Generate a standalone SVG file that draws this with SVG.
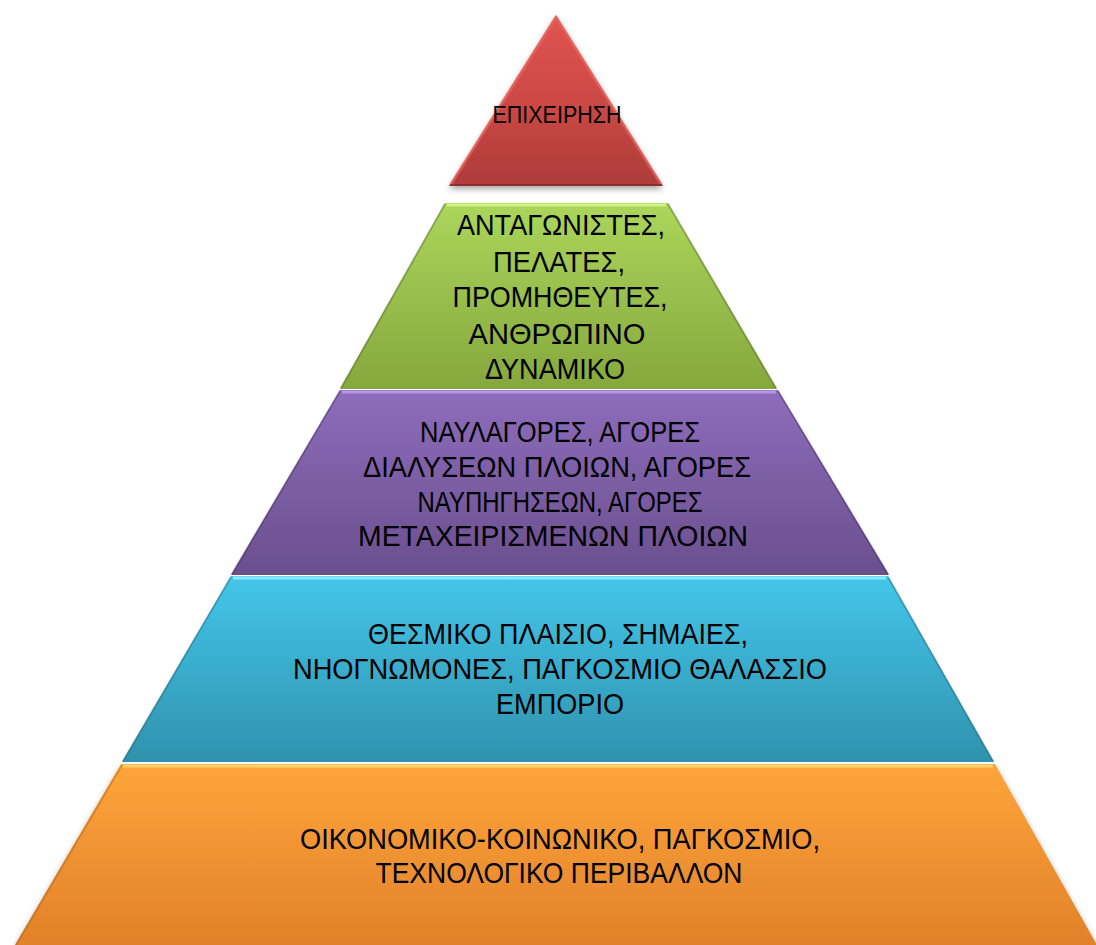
<svg xmlns="http://www.w3.org/2000/svg" width="1096" height="945" viewBox="0 0 1096 945">
<defs>
<linearGradient id="gRed" x1="0" y1="0" x2="0" y2="1"><stop offset="0" stop-color="#e0544f"/><stop offset="0.5" stop-color="#cc4945"/><stop offset="1" stop-color="#ad3c3a"/></linearGradient>
<linearGradient id="gGreen" x1="0" y1="0" x2="0" y2="1"><stop offset="0" stop-color="#abd65b"/><stop offset="1" stop-color="#86a73d"/></linearGradient>
<linearGradient id="gPurple" x1="0" y1="0" x2="0" y2="1"><stop offset="0" stop-color="#8e6dbc"/><stop offset="1" stop-color="#6a4f8d"/></linearGradient>
<linearGradient id="gCyan" x1="0" y1="0" x2="0" y2="1"><stop offset="0" stop-color="#44c6ea"/><stop offset="1" stop-color="#2f92ad"/></linearGradient>
<linearGradient id="gOrange" x1="0" y1="0" x2="0" y2="1"><stop offset="0" stop-color="#fea53b"/><stop offset="1" stop-color="#e1812a"/></linearGradient>
<filter id="sh" x="-10%" y="-10%" width="120%" height="130%"><feGaussianBlur in="SourceAlpha" stdDeviation="3"/><feOffset dy="3"/><feComponentTransfer><feFuncA type="linear" slope="0.35"/></feComponentTransfer><feMerge><feMergeNode/><feMergeNode in="SourceGraphic"/></feMerge></filter>
</defs>
<style>
.t{font-family:"Liberation Sans","Noto Sans","DejaVu Sans",sans-serif;font-size:29px;fill:#000;text-anchor:middle}
.ts{font-size:23px}
.hl{fill:none;stroke-width:3;stroke-linejoin:round}
.dk{fill:none;stroke-width:2;stroke-opacity:0.35}
</style>
<rect width="1096" height="945" fill="#ffffff"/>
<g id="layer-orange">
<polygon points="121,764 995,764 1097,945 15,945" fill="url(#gOrange)" filter="url(#sh)"/>
<polyline class="hl" points="123,766 993,766" stroke="#ffd46e"/>
<polyline class="dk" points="122,765 16,945" stroke="#9a5a10"/>
<text class="t" x="560" y="849" textLength="520" lengthAdjust="spacingAndGlyphs">ΟΙΚΟΝΟΜΙΚΟ-ΚΟΙΝΩΝΙΚΟ, ΠΑΓΚΟΣΜΙΟ,</text>
<text class="t" x="559" y="883" textLength="367" lengthAdjust="spacingAndGlyphs">ΤΕΧΝΟΛΟΓΙΚΟ ΠΕΡΙΒΑΛΛΟΝ</text>
</g>
<g id="layer-cyan">
<polygon points="231,576 888,576 994,762 122,762" fill="url(#gCyan)"/>
<polyline class="hl" points="233,578 886,578" stroke="#8ceaff"/>
<polyline class="dk" points="231,577 123,761" stroke="#105060"/>
<polyline class="dk" points="888,577 993,761" stroke="#105060"/>
<text class="t" x="558" y="644" textLength="380" lengthAdjust="spacingAndGlyphs">ΘΕΣΜΙΚΟ ΠΛΑΙΣΙΟ, ΣΗΜΑΙΕΣ,</text>
<text class="t" x="560" y="679" textLength="534" lengthAdjust="spacingAndGlyphs">ΝΗΟΓΝΩΜΟΝΕΣ, ΠΑΓΚΟΣΜΙΟ ΘΑΛΑΣΣΙΟ</text>
<text class="t" x="560" y="714" textLength="128" lengthAdjust="spacingAndGlyphs">ΕΜΠΟΡΙΟ</text>
</g>
<g id="layer-purple">
<polygon points="340,390 778,390 889,575 231,575" fill="url(#gPurple)"/>
<polyline class="hl" points="342,392 776,392" stroke="#b596e6"/>
<polyline class="dk" points="340,391 232,574" stroke="#301a50"/>
<polyline class="dk" points="778,391 888,574" stroke="#301a50"/>
<text class="t" x="560" y="442" textLength="280" lengthAdjust="spacingAndGlyphs">ΝΑΥΛΑΓΟΡΕΣ, ΑΓΟΡΕΣ</text>
<text class="t" x="557" y="477" textLength="388" lengthAdjust="spacingAndGlyphs">ΔΙΑΛΥΣΕΩΝ ΠΛΟΙΩΝ, ΑΓΟΡΕΣ</text>
<text class="t" x="560" y="512" textLength="285" lengthAdjust="spacingAndGlyphs">ΝΑΥΠΗΓΗΣΕΩΝ, ΑΓΟΡΕΣ</text>
<text class="t" x="553" y="546" textLength="390" lengthAdjust="spacingAndGlyphs">ΜΕΤΑΧΕΙΡΙΣΜΕΝΩΝ ΠΛΟΙΩΝ</text>
</g>
<g id="layer-green">
<polygon points="445,203 668,203 777,389 340,389" fill="url(#gGreen)"/>
<polyline class="hl" points="447,205 666,205" stroke="#d2f28a"/>
<polyline class="dk" points="445,204 341,388" stroke="#3a5010"/>
<polyline class="dk" points="668,204 776,388" stroke="#3a5010"/>
<text class="t" x="561" y="235" textLength="208" lengthAdjust="spacingAndGlyphs">ΑΝΤΑΓΩΝΙΣΤΕΣ,</text>
<text class="t" x="559" y="272" textLength="132" lengthAdjust="spacingAndGlyphs">ΠΕΛΑΤΕΣ,</text>
<text class="t" x="560" y="307" textLength="215" lengthAdjust="spacingAndGlyphs">ΠΡΟΜΗΘΕΥΤΕΣ,</text>
<text class="t" x="557" y="344" textLength="177" lengthAdjust="spacingAndGlyphs">ΑΝΘΡΩΠΙΝΟ</text>
<text class="t" x="555" y="379" textLength="140" lengthAdjust="spacingAndGlyphs">ΔΥΝΑΜΙΚΟ</text>
</g>
<g id="layer-red">
<polygon points="556,15 663,186 449,186" fill="url(#gRed)" filter="url(#sh)"/>
<polyline class="hl" points="451,184 556,17 661,184" stroke="#ec6b66" stroke-opacity="0.6"/>
<polyline class="dk" points="450,185 662,185" stroke="#5a1010"/>
<text class="t ts" x="557" y="123" textLength="129" lengthAdjust="spacingAndGlyphs">ΕΠΙΧΕΙΡΗΣΗ</text>
</g>
</svg>
